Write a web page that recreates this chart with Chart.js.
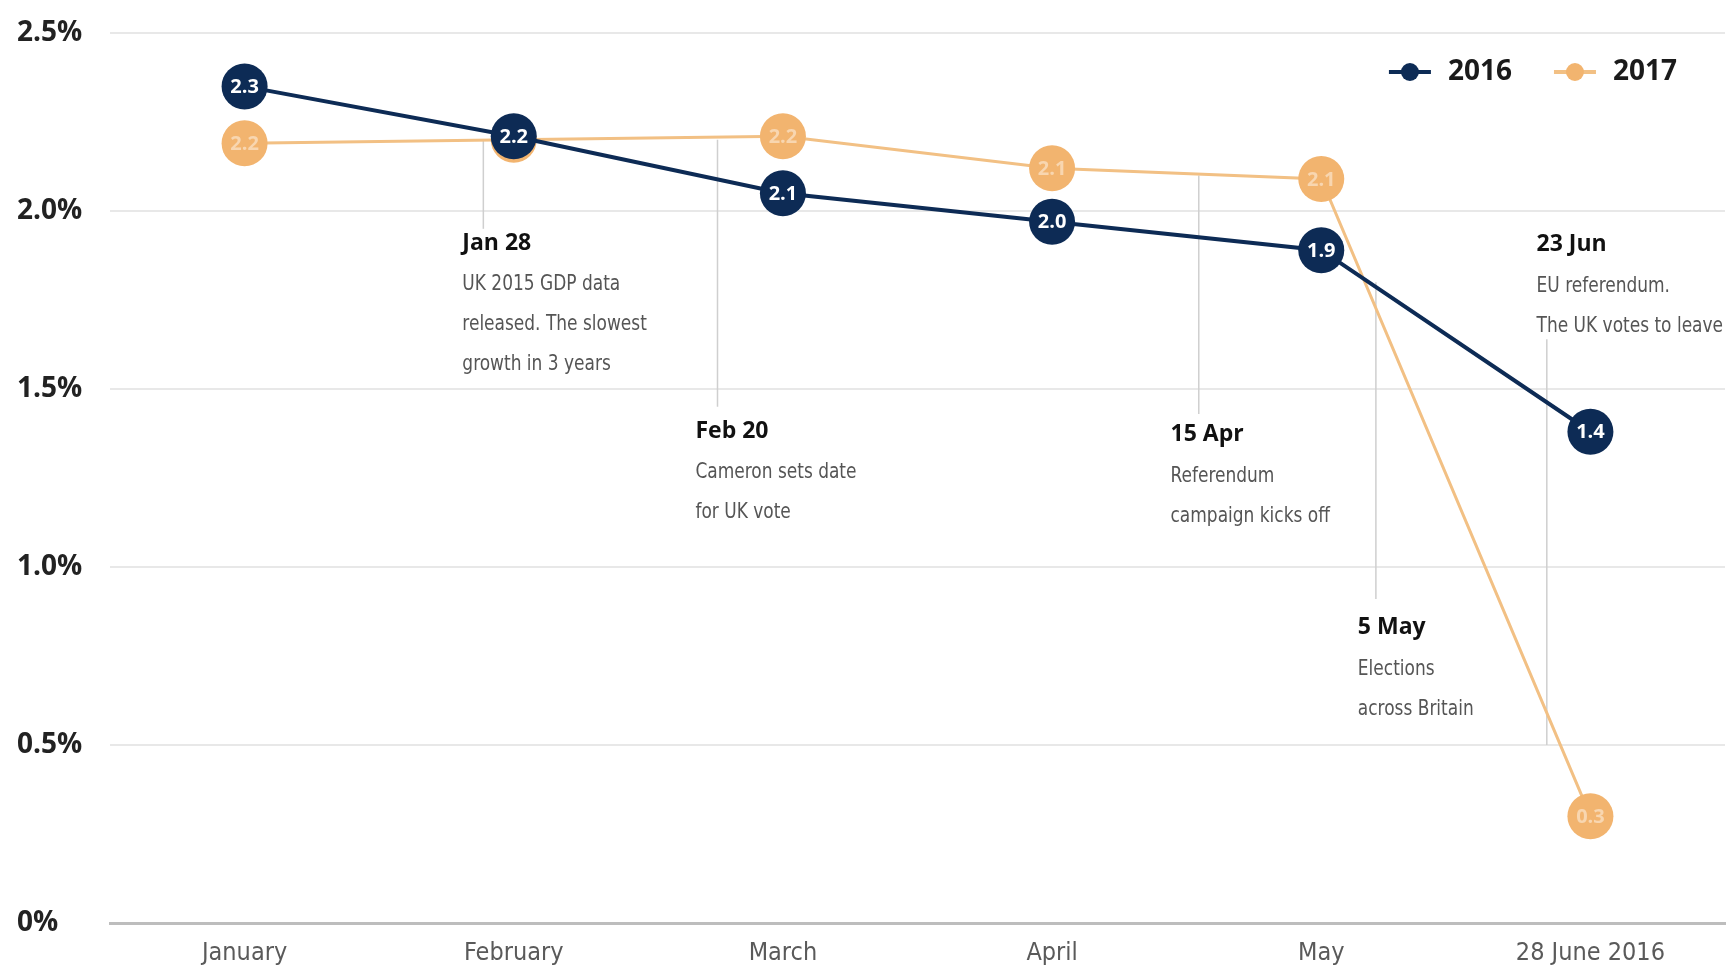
<!DOCTYPE html>
<html>
<head>
<meta charset="utf-8">
<script src="https://cdn.jsdelivr.net/npm/chart.js@4.4.1/dist/chart.umd.min.js"></script>
<style>
  html, body { margin: 0; padding: 0; background: #fff; overflow: hidden; }
  #wrap { width: 1727px; height: 971px; }
  canvas { display: block; }
</style>
</head>
<body>
<div id="wrap"><canvas id="canvas"></canvas></div>
<script>
const months = ['January', 'February', 'March', 'April', 'May', '28 June 2016']
const growth2016 = [2.35, 2.21, 2.05, 1.97, 1.89, 1.38]
const growth2017 = [2.19, 2.2, 2.21, 2.12, 2.09, 0.3]
const printed2016 = ['2.3', '2.2', '2.1', '2.0', '1.9', '1.4']
const printed2017 = ['2.2', '2.2', '2.2', '2.1', '2.1', '0.3']
const yTicks = [0, 0.5, 1, 1.5, 2, 2.5]

const eventDates = ['Jan 28', 'Feb 20', '15 Apr', '5 May', '23 Jun']
const eventNotes = [
    ['UK 2015 GDP data', 'released. The slowest', 'growth in 3 years'],
    ['Cameron sets date', 'for UK vote'],
    ['Referendum', 'campaign kicks off'],
    ['Elections', 'across Britain'],
    ['EU referendum.', 'The UK votes to leave']
]
// event placement in axis units (month index, % value)
const eventAt = [0.887, 1.757, 3.545, 4.203, 4.838]
const eventFrom = [2.2, 2.2, 2.1, 1.8, 1.64]
const eventTo = [1.95, 1.45, 1.43, 0.91, 0.5]
const noteAt = [0.809, 1.675, 3.44, 4.136, 4.8]
const noteLevel = [1.91, 1.382, 1.371, 0.831, 1.907]

const NAVY = '#0d2b55'
const ORANGE = '#f2b46f'
const NARROW = '"Liberation Sans Narrow", "DejaVu Sans Condensed", "Open Sans", sans-serif'

const eventsPlugin = {
    id: 'events',
    beforeDatasetsDraw(chart) {
        const { ctx, scales: { x, y } } = chart
        ctx.save()
        eventDates.forEach((date, i) => {
            const lx = x.getPixelForValue(eventAt[i])
            ctx.strokeStyle = '#cfcfcf'
            ctx.lineWidth = 1.5
            ctx.beginPath()
            ctx.moveTo(lx, y.getPixelForValue(eventFrom[i]))
            ctx.lineTo(lx, y.getPixelForValue(eventTo[i]))
            ctx.stroke()

            const tx = x.getPixelForValue(noteAt[i])
            const ty = y.getPixelForValue(noteLevel[i])
            ctx.textAlign = 'left'
            ctx.textBaseline = 'middle'
            ctx.font = 'bold 23px "Open Sans"'
            ctx.fillStyle = '#111'
            ctx.fillText(date, tx, ty)
            // the original uses a condensed face, so squeeze the notes a bit
            ctx.save()
            ctx.translate(tx, 0)
            ctx.scale(0.9, 1)
            ctx.font = '21px ' + NARROW
            ctx.fillStyle = '#555'
            eventNotes[i].forEach((line, j) => ctx.fillText(line, 0, ty + 42 + j * 40))
            ctx.restore()
        })
        ctx.restore()
    }
}

const pointLabels = {
    id: 'pointLabels',
    afterDatasetDraw(chart, args) {
        const ds = chart.data.datasets[args.index]
        const ctx = chart.ctx
        ctx.save()
        ctx.font = 'bold 20px "Open Sans"'
        ctx.fillStyle = ds.labelColor
        ctx.textAlign = 'center'
        ctx.textBaseline = 'middle'
        args.meta.data.forEach((pt, i) => ctx.fillText(ds.printed[i], pt.x, pt.y + 1))
        ctx.restore()
    }
}

const seriesLegend = {
    id: 'seriesLegend',
    afterDraw(chart) {
        const { ctx, chartArea } = chart
        ctx.save()
        ctx.font = 'bold 28px "Open Sans"'
        ctx.textBaseline = 'middle'
        ctx.textAlign = 'left'
        const y = chartArea.top + 39
        let x = chartArea.right - 48
        chart.data.datasets.slice().reverse().forEach(ds => {
            const w = ctx.measureText(ds.label).width
            ctx.fillStyle = '#1a1a1a'
            ctx.fillText(ds.label, x - w, y)
            x -= w + 17
            ctx.strokeStyle = ds.borderColor
            ctx.lineWidth = 4
            ctx.beginPath()
            ctx.moveTo(x - 42, y)
            ctx.lineTo(x, y)
            ctx.stroke()
            ctx.fillStyle = ds.pointBackgroundColor
            ctx.beginPath()
            ctx.arc(x - 21, y, 9, 0, Math.PI * 2)
            ctx.fill()
            x -= 84
        })
        ctx.restore()
    }
}

new Chart(document.getElementById('canvas'), {
    type: 'line',
    data: {
        labels: months,
        datasets: [
            {
                label: '2016',
                data: growth2016,
                printed: printed2016,
                labelColor: '#ffffff',
                borderColor: NAVY,
                borderWidth: 4,
                pointBackgroundColor: NAVY,
                pointBorderWidth: 0,
                pointRadius: 23,
                pointHoverRadius: 23
            },
            {
                label: '2017',
                data: growth2017,
                printed: printed2017,
                labelColor: 'rgba(255,255,255,0.45)',
                borderColor: '#f2c084',
                borderWidth: 3,
                pointBackgroundColor: ORANGE,
                pointBorderWidth: 0,
                pointRadius: 23,
                pointHoverRadius: 23
            }
        ]
    },
    options: {
        responsive: true,
        maintainAspectRatio: false,
        animation: false,
        layout: { autoPadding: false, padding: { left: 17, top: 33, right: 2, bottom: 0 } },
        plugins: { legend: { display: false }, tooltip: { enabled: false } },
        scales: {
            x: {
                offset: true,
                afterFit: scale => {
                    scale.height = 48
                    scale.paddingLeft = 0
                    scale.paddingRight = 0
                },
                grid: { display: false, drawTicks: false },
                border: { color: '#bdbdbd', width: 3 },
                ticks: { color: '#5a5a5a', padding: 15, font: { family: NARROW, size: 25 } }
            },
            y: {
                min: 0,
                max: 2.5,
                afterBuildTicks: scale => { scale.ticks = yTicks.map(v => ({ value: v })) },
                afterFit: scale => { scale.width = 93 },
                grid: { color: '#e8e8e8', lineWidth: 2, drawTicks: false },
                border: { display: false },
                ticks: {
                    crossAlign: 'far',
                    color: '#222',
                    font: { family: '"Open Sans"', size: 28, weight: 'bold' },
                    callback: v => v === 0 ? '0%' : v.toFixed(1) + '%'
                }
            }
        }
    },
    plugins: [eventsPlugin, pointLabels, seriesLegend]
})
</script>
</body>
</html>
